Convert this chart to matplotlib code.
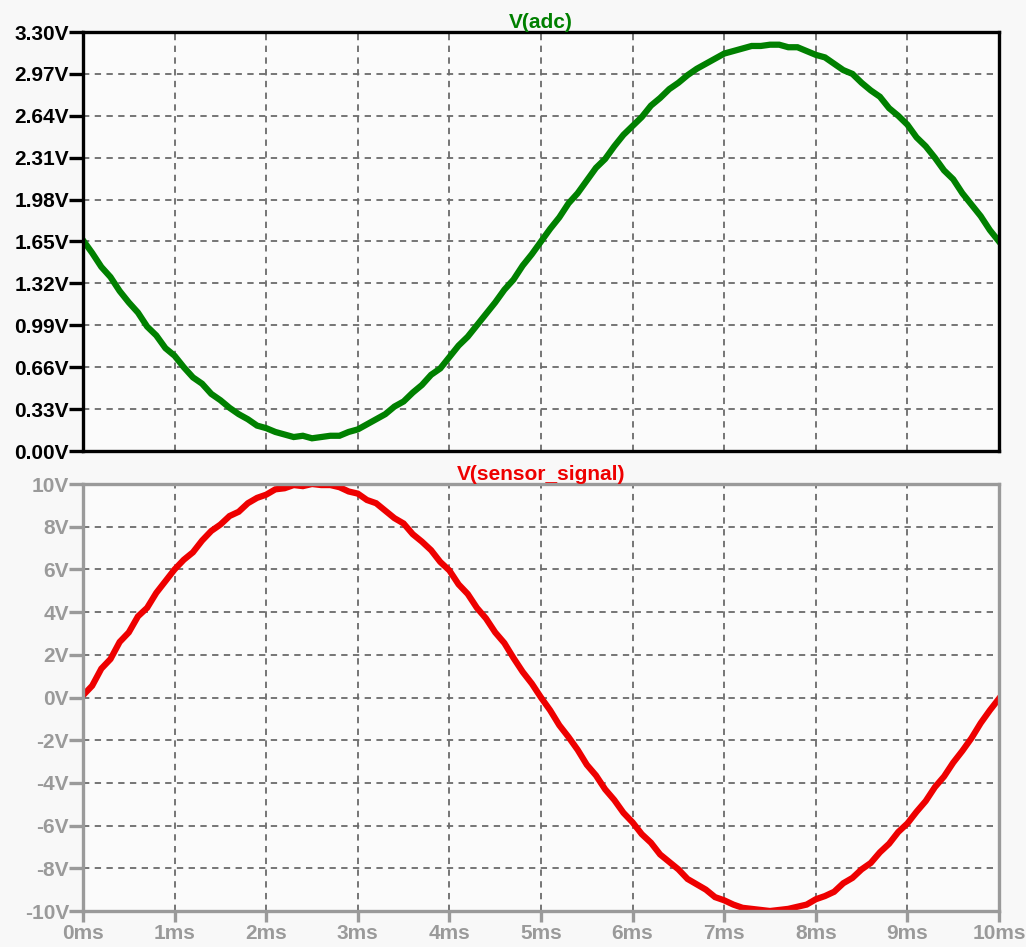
import matplotlib
matplotlib.use("Agg")
import matplotlib.pyplot as plt
import numpy as np

plt.rcParams['font.family'] = ['Liberation Sans', 'DejaVu Sans']

# time axis (ms), 0.1 ms steps
time_ms = [i / 10 for i in range(101)]

# V(adc) values (V)
v_adc = [1.66, 1.56, 1.45, 1.37, 1.26, 1.17, 1.09, 0.98, 0.91, 0.81,
         0.75, 0.66, 0.58, 0.53, 0.45, 0.40, 0.34, 0.29, 0.25, 0.20,
         0.18, 0.15, 0.13, 0.11, 0.12, 0.10, 0.11, 0.12, 0.12, 0.15,
         0.17, 0.21, 0.25, 0.29, 0.35, 0.39, 0.46, 0.52, 0.60, 0.65,
         0.74, 0.83, 0.90, 0.99, 1.08, 1.17, 1.27, 1.35, 1.46, 1.55,
         1.65, 1.75, 1.84, 1.95, 2.03, 2.13, 2.23, 2.30, 2.40, 2.49,
         2.56, 2.63, 2.72, 2.78, 2.85, 2.90, 2.96, 3.01, 3.05, 3.09,
         3.13, 3.15, 3.17, 3.19, 3.19, 3.20, 3.20, 3.18, 3.18, 3.15,
         3.12, 3.10, 3.05, 3.00, 2.97, 2.90, 2.84, 2.79, 2.70, 2.64,
         2.57, 2.47, 2.40, 2.31, 2.21, 2.14, 2.03, 1.94, 1.85, 1.74,
         1.65]

# V(sensor_signal) values (V)
v_sensor = [0.10, 0.55, 1.35, 1.80, 2.60, 3.05, 3.80, 4.20, 4.90, 5.45,
            6.00, 6.45, 6.80, 7.35, 7.80, 8.10, 8.50, 8.70, 9.10, 9.35,
            9.50, 9.75, 9.80, 9.95, 9.90, 10.0, 9.95, 9.95, 9.85, 9.65,
            9.55, 9.25, 9.10, 8.75, 8.40, 8.15, 7.65, 7.30, 6.90, 6.35,
            5.95, 5.30, 4.85, 4.20, 3.70, 3.05, 2.55, 1.85, 1.20, 0.65,
            0.00, -0.60, -1.30, -1.85, -2.45, -3.15, -3.65, -4.30, -4.80, -5.40,
            -5.85, -6.40, -6.80, -7.35, -7.70, -8.05, -8.50, -8.75, -9.00, -9.35,
            -9.50, -9.70, -9.85, -9.90, -9.95, -10.0, -9.95, -9.90, -9.80, -9.70,
            -9.45, -9.30, -9.10, -8.70, -8.45, -8.05, -7.75, -7.25, -6.85, -6.30,
            -5.90, -5.35, -4.85, -4.20, -3.70, -3.05, -2.50, -1.90, -1.20, -0.60,
            -0.05]

x_ticks = list(range(11))
x_labels = [f"{t}ms" for t in x_ticks]
adc_ticks = [0.00, 0.33, 0.66, 0.99, 1.32, 1.65, 1.98, 2.31, 2.64, 2.97, 3.30]
adc_labels = [f"{v:.2f}V" for v in adc_ticks]
sens_ticks = [-10, -8, -6, -4, -2, 0, 2, 4, 6, 8, 10]
sens_labels = [f"{v}V" for v in sens_ticks]

W, H = 1026, 947
fig = plt.figure(figsize=(W / 100, H / 100), dpi=100, facecolor='#f8f8f8')

L, R = 83 / W, 999 / W
ax1 = fig.add_axes([L, 1 - 451 / H, R - L, 419 / H])
ax2 = fig.add_axes([L, 1 - 911 / H, R - L, 427 / H])

grid_kw = dict(color='#6a6a6a', linestyle=(0, (3.5, 3)), linewidth=1.3)
FS = 15

for ax, frame_col, lab_col in [(ax1, 'black', 'black'), (ax2, '#9a9a9a', '#9a9a9a')]:
    ax.set_facecolor('#fbfbfb')
    for s in ax.spines.values():
        s.set_color(frame_col)
        s.set_linewidth(2.4)
    ax.set_xlim(0, 10)
    ax.set_xticks(x_ticks)
    ax.grid(True, **grid_kw)
    ax.set_axisbelow(True)
    ax.tick_params(axis='both', direction='out', length=10, width=2.4,
                   color=frame_col, labelcolor=lab_col, labelsize=FS, pad=0)

ax1.plot(time_ms, v_adc, color='#008000', linewidth=4.5, solid_joinstyle='miter')
ax1.set_ylim(0, 3.30)
ax1.set_yticks(adc_ticks)
ax1.set_yticklabels(adc_labels, fontweight='bold')
ax1.tick_params(axis='x', length=0, labelbottom=False)
ax1.set_title('V(adc)', color='#008000', fontweight='bold', fontsize=FS, pad=3)

ax2.plot(time_ms, v_sensor, color='#ee0000', linewidth=4.5, solid_joinstyle='miter')
ax2.set_ylim(-10, 10)
ax2.set_yticks(sens_ticks)
ax2.set_yticklabels(sens_labels, fontweight='bold')
ax2.set_xticklabels(x_labels, fontweight='bold')
ax2.tick_params(axis='x', length=8, pad=1)
ax2.set_title('V(sensor_signal)', color='#ee0000', fontweight='bold', fontsize=FS, pad=3)

fig.savefig('out.png', dpi=100, facecolor=fig.get_facecolor())
